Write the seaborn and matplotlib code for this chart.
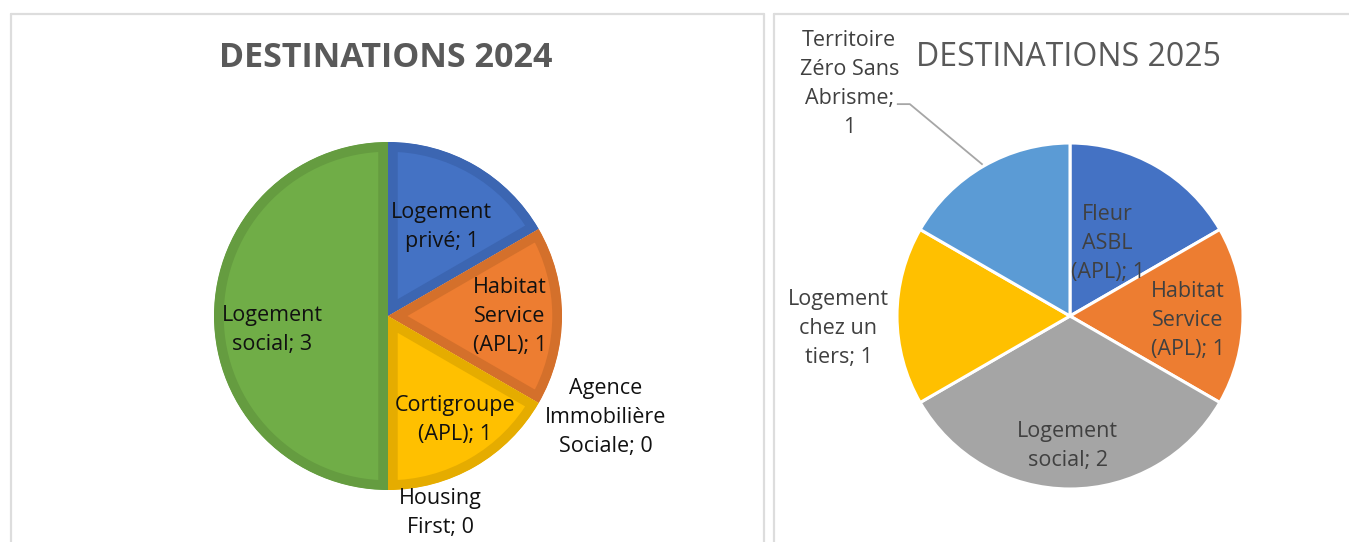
import numpy as np
import matplotlib
matplotlib.use('Agg')  # no display
import matplotlib.pyplot as plt
from matplotlib.lines import Line2D
import seaborn as sns

# --- data -------------------------------------------------------------
names_2024 = ["Logement\nprivé", "Habitat\nService\n(APL)", "Agence\nImmobilière\nSociale",
              "Cortigroupe\n(APL)", "Housing\nFirst", "Logement\nsocial"]
values_2024 = [1, 1, 0, 1, 0, 3]
colors_2024 = ["#4472C4", "#ED7D31", "#A5A5A5", "#FFC000", "#5B9BD5", "#70AD47"]
edges_2024 = ["#3C66B2", "#D4702B", "#949494", "#E5AC00", "#5189C0", "#659C40"]

names_2025 = ["Fleur\nASBL\n(APL)", "Habitat\nService\n(APL)", "Logement\nsocial",
              "Logement\nchez un\ntiers", "Territoire\nZéro Sans\nAbrisme"]
values_2025 = [1, 1, 2, 1, 1]
colors_2025 = ["#4472C4", "#ED7D31", "#A5A5A5", "#FFC000", "#5B9BD5"]
value_on_new_line_2025 = [False, False, False, False, True]

# label placement: radius factor and angle nudge (deg) per slice
lab_r_2024 = [0.60, 0.70, 1.38, 0.71, 1.17, 0.67]
lab_da_2024 = [-1, 0, 5, 3, 15, 7]
lab_r_2025 = [0.47, 0.68, 0.75, 1.34, 1.85]
lab_da_2025 = [2.5, -2, -1, 3, 13.6]

W, H = 1349, 542
sns.set_theme(style="white")
plt.rcParams['font.family'] = ['Open Sans', 'DejaVu Sans']

fig = plt.figure(figsize=(W / 100, H / 100), dpi=100)
fig.patch.set_facecolor("white")

# panel borders (pixel coords, y down)
def fig_line(x0, y0, x1, y1):
    fig.add_artist(Line2D([x0 / W, x1 / W], [1 - y0 / H, 1 - y1 / H],
                          color="#DDDDDD", lw=1.6, transform=fig.transFigure))

fig_line(11, 14, 11, H)
fig_line(11, 14, 764, 14)
fig_line(764, 14, 764, H)
fig_line(774, 14, 774, H)
fig_line(774, 14, W, 14)

SPAN = 2.2
LABEL_SIZE = 15.5
LINESP = 1.5


def pie_axes(cx, cy, r):
    size = 2 * SPAN * r
    ax = fig.add_axes([(cx - SPAN * r) / W, 1 - (cy + SPAN * r) / H, size / W, size / H])
    return ax


def place_labels(ax, wedges, texts, rfac, dang, color):
    pos = []
    for w, t, rr, da in zip(wedges, texts, rfac, dang):
        mid = np.deg2rad((w.theta1 + w.theta2) / 2 + da)
        x, y = rr * np.cos(mid), rr * np.sin(mid)
        ax.text(x, y, t, ha="center", va="center", multialignment="center",
                color=color, fontsize=LABEL_SIZE, linespacing=LINESP)
        pos.append((x, y))
    return pos


# --- 2024 -------------------------------------------------------------
ax1 = pie_axes(388, 316, 174)
wedges1, _ = ax1.pie(values_2024, colors=colors_2024, startangle=90,
                     counterclock=False, radius=1)
for w, v, ec in zip(wedges1, values_2024, edges_2024):
    if v == 0:
        w.set_linewidth(0)
        continue
    # outline drawn inside the slice only
    w.set_edgecolor(ec)
    w.set_linewidth(14)
    w.set_clip_on(True)
    w.set_clip_path(w)
ax1.set_xlim(-SPAN, SPAN)
ax1.set_ylim(-SPAN, SPAN)
ax1.axis("off")
texts1 = [f"{n}; {v}" for n, v in zip(names_2024, values_2024)]
place_labels(ax1, wedges1, texts1, lab_r_2024, lab_da_2024, "#111111")

fig.text(386 / W, 1 - 58 / H, "DESTINATIONS 2024", ha="center", va="center",
         fontsize=24.5, fontweight="bold", color="#595959")

# --- 2025 -------------------------------------------------------------
ax2 = pie_axes(1070, 316, 173)
wedges2, _ = ax2.pie(values_2025, colors=colors_2025, startangle=90,
                     counterclock=False, radius=1,
                     wedgeprops=dict(edgecolor="white", linewidth=2.2))
ax2.set_xlim(-SPAN, SPAN)
ax2.set_ylim(-SPAN, SPAN)
ax2.axis("off")
texts2 = [f"{n};\n{v}" if nl else f"{n}; {v}"
          for n, v, nl in zip(names_2025, values_2025, value_on_new_line_2025)]
pos2 = place_labels(ax2, wedges2, texts2, lab_r_2025, lab_da_2025, "#404040")

# leader line for the outside label
w = wedges2[4]
mid = np.deg2rad((w.theta1 + w.theta2) / 2)
lx, ly = pos2[4]
ax2.plot([lx + 0.275, lx + 0.35, 1.01 * np.cos(mid)],
         [ly - 0.115, ly - 0.115, 1.01 * np.sin(mid)],
         color="#A6A6A6", lw=1.3, solid_capstyle="butt")

fig.text(1068 / W, 1 - 58 / H, "DESTINATIONS 2025", ha="center", va="center",
         fontsize=23, color="#595959")

fig.savefig("out.png", dpi=100, facecolor="white")
